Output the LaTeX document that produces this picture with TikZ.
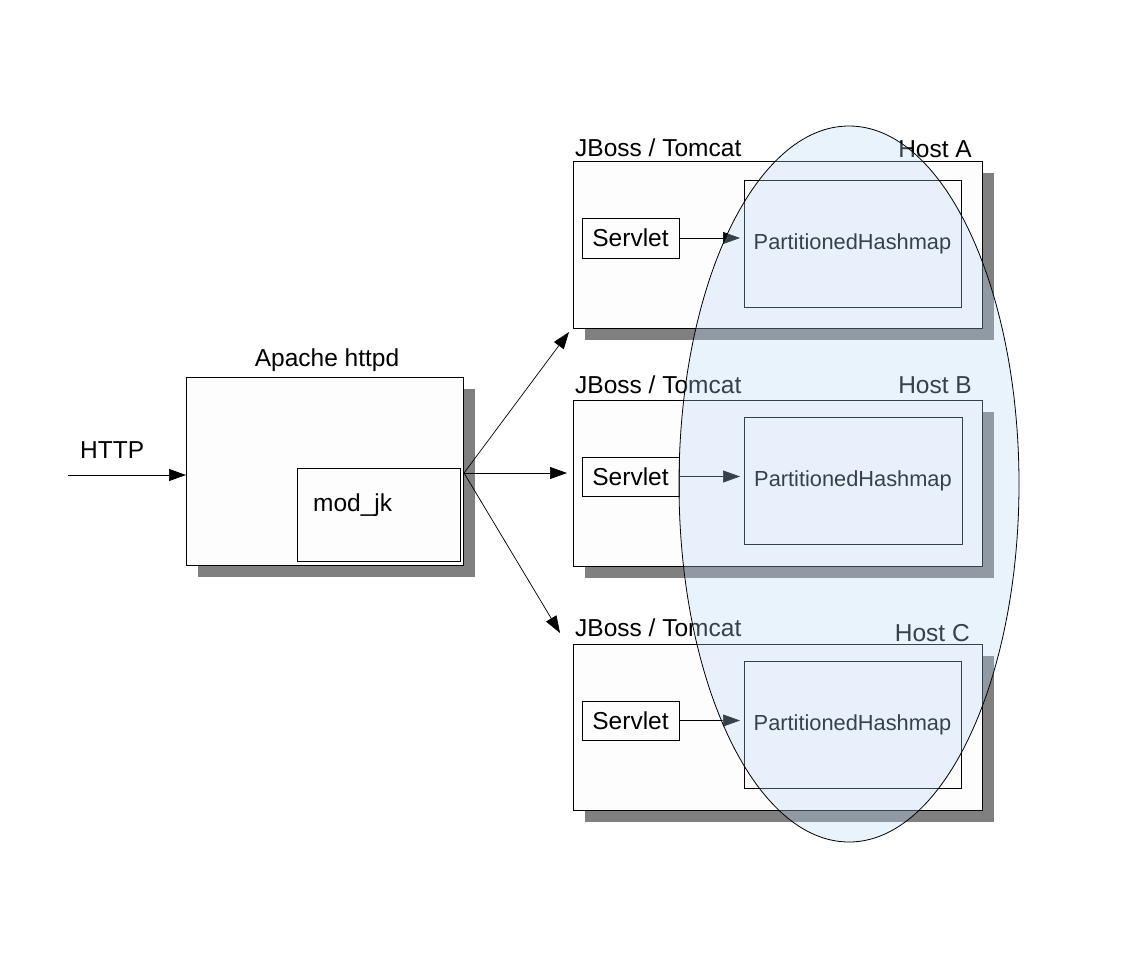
\documentclass[tikz,border=0pt]{standalone}
\usepackage{fontspec}
\setmainfont{Liberation Sans}
\usetikzlibrary{arrows.meta}
\definecolor{shadowc}{RGB}{128,128,128}
\definecolor{boxfill}{RGB}{253,253,253}
\definecolor{ellfill}{RGB}{185,216,247}
\definecolor{hashtext}{RGB}{0,0,0}
\begin{document}
\begin{tikzpicture}[x=1pt,y=-1pt,
  box/.style={draw=black,line width=0.9pt,fill=boxfill,anchor=north west,inner sep=0pt,outer sep=0pt},
  lbl/.style={inner sep=0pt,font=\fontsize{24.5}{28}\selectfont},
  hashlbl/.style={inner sep=0pt,font=\fontsize{21.8}{26}\selectfont,text=hashtext},
  conn/.style={line width=0.7pt,-{Triangle[length=17pt,width=12pt]}},
  inconn/.style={line width=0.7pt,-{Triangle[length=17pt,width=12pt]},color=black}
]
\useasboundingbox (0,0) rectangle (1127,967);
\fill[white] (0,0) rectangle (1127,967);

% shadows
\fill[shadowc] (198,389) rectangle (475,577);
\fill[shadowc] (585,173) rectangle (994,340);
\fill[shadowc] (585,412) rectangle (994,578);
\fill[shadowc] (585,656) rectangle (994,822);

% Apache
\node[box,minimum width=277pt,minimum height=188pt] (apache) at (186,377) {};
\node[box,minimum width=163pt,minimum height=93pt] (modjk) at (297,468) {};
\node[lbl,anchor=base] (apachelbl) at (327,366) {Apache httpd};
\node[lbl,anchor=base west] (modjklbl) at (313,511) {mod\_jk};
\node[lbl,anchor=base west] (httplbl) at (80,458) {HTTP};

% Host A
\node[box,minimum width=409pt,minimum height=167pt] (hostA) at (573,161) {};
\node[box,minimum width=97pt,minimum height=40pt] (servA) at (582,218) {};
\node[lbl] at (servA.center) {Servlet};
\node[box,minimum width=217pt,minimum height=127pt] (hashA) at (744,180) {};
\node[hashlbl] at (hashA.center) {PartitionedHashmap};
\node[lbl,anchor=base west] (jbA) at (575,156) {JBoss / Tomcat};
\node[lbl,anchor=base east] (hA) at (972,157) {Host A};

% Host B
\node[box,minimum width=409pt,minimum height=166pt] (hostB) at (573,400) {};
\node[box,minimum width=97pt,minimum height=39pt] (servB) at (582,457) {};
\node[lbl] at (servB.center) {Servlet};
\node[box,minimum width=218pt,minimum height=127pt] (hashB) at (744,417) {};
\node[hashlbl] at (hashB.center) {PartitionedHashmap};
\node[lbl,anchor=base west] (jbB) at (575,393) {JBoss / Tomcat};
\node[lbl,anchor=base east] (hB) at (972,393) {Host B};

% Host C
\node[box,minimum width=409pt,minimum height=166pt] (hostC) at (573,644) {};
\node[box,minimum width=97pt,minimum height=39pt] (servC) at (582,701) {};
\node[lbl] at (servC.center) {Servlet};
\node[box,minimum width=217pt,minimum height=127pt] (hashC) at (744,661) {};
\node[hashlbl] at (hashC.center) {PartitionedHashmap};
\node[lbl,anchor=base west] (jbC) at (575,636) {JBoss / Tomcat};
\node[lbl,anchor=base east] (hC) at (970,641) {Host C};

% connectors
\coordinate (httpin) at (68,475);
\coordinate (split) at (464,473);
\coordinate (tipC) at (560,633);
\draw[inconn] (httpin) -- (apache.west |- httpin);
\draw[conn] (split) -- ([shift={(-4,4)}]hostA.south west);
\draw[conn] (split) -- ([xshift=-6pt]hostB.west |- split);
\draw[conn] (split) -- (tipC);
\draw[conn] (servA.east) -- ([xshift=-4pt]hashA.west |- servA.east);
\draw[conn] (servB.east) -- ([xshift=-4pt]hashB.west |- servB.east);
\draw[conn] (servC.east) -- ([xshift=-4pt]hashC.west |- servC.east);

% ellipse overlay
\fill[ellfill,fill opacity=0.3] (849,484) ellipse [x radius=170, y radius=358];
\draw[black,line width=0.8pt] (849,484) ellipse [x radius=170, y radius=358];
\end{tikzpicture}
\end{document}
